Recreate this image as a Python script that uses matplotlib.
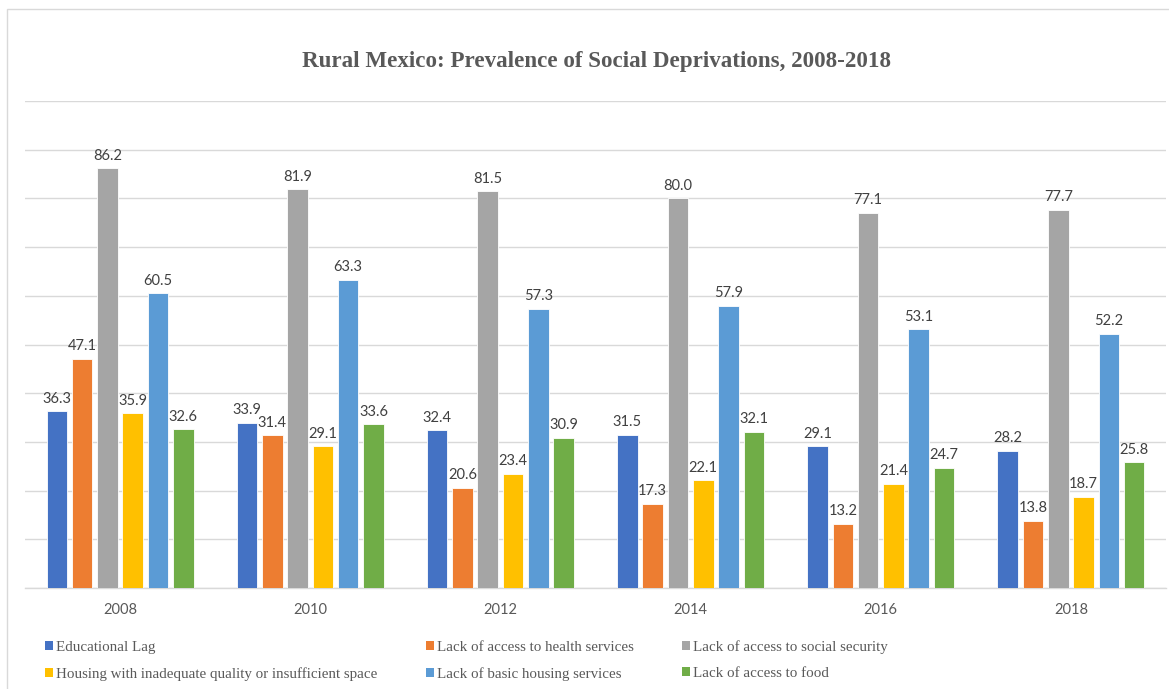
import matplotlib
matplotlib.use("Agg")
import matplotlib.pyplot as plt
import numpy as np
from matplotlib.patches import Rectangle, Patch

years = ["2008", "2010", "2012", "2014", "2016", "2018"]
series_names = [
    "Educational Lag",
    "Lack of access to health services",
    "Lack of access to social security",
    "Housing with inadequate quality or insufficient space",
    "Lack of basic housing services",
    "Lack of access to food",
]
educational_lag = [36.3, 33.9, 32.4, 31.5, 29.1, 28.2]
health_services = [47.1, 31.4, 20.6, 17.3, 13.2, 13.8]
social_security = [86.2, 81.9, 81.5, 80.0, 77.1, 77.7]
housing_quality = [35.9, 29.1, 23.4, 22.1, 21.4, 18.7]
basic_housing = [60.5, 63.3, 57.3, 57.9, 53.1, 52.2]
food_access = [32.6, 33.6, 30.9, 32.1, 24.7, 25.8]
series = [educational_lag, health_services, social_security,
          housing_quality, basic_housing, food_access]
colors = ["#4472C4", "#ED7D31", "#A5A5A5", "#FFC000", "#5B9BD5", "#70AD47"]

W, H = 1169, 689
fig = plt.figure(figsize=(W / 100, H / 100), dpi=100)
fig.patch.set_facecolor("white")

# chart frame
fig.patches.append(Rectangle((7 / W, -0.05), 1.05, 1 - 9 / H + 0.05,
                             transform=fig.transFigure, fill=False,
                             edgecolor="#D9D9D9", linewidth=1))

ax = fig.add_axes([25 / W, 101 / H, (1166 - 25) / W, (588 - 101) / H])
x = np.arange(len(years))
slot = 25.3 / 190
bw = 20.5 / 190
for i, (vals, c) in enumerate(zip(series, colors)):
    off = (i - 2.5) * slot
    bars = ax.bar(x + off, vals, width=bw, color=c, edgecolor="white",
                  linewidth=0.6, zorder=3)
    ax.bar_label(bars, fmt="%.1f", padding=4, fontsize=10.5,
                 color="#404040", family="Lato")

ax.set_xlim(-0.5, len(years) - 0.5)
ax.set_ylim(0, 100)
ax.set_yticks(np.arange(0, 101, 10))
ax.set_yticklabels([])
ax.tick_params(axis="y", length=0)
ax.set_xticks(x)
ax.set_xticklabels(years, fontsize=10.5, color="#595959", family="Lato")
ax.tick_params(axis="x", length=0, pad=11)
ax.grid(axis="y", color="#D9D9D9", linewidth=1, zorder=0)
for s in ["top", "right", "left"]:
    ax.spines[s].set_visible(False)
ax.spines["bottom"].set_color("#D9D9D9")
ax.spines["bottom"].set_linewidth(1)
ax.set_axisbelow(True)

fig.text(596 / W, 1 - 61 / H,
         "Rural Mexico: Prevalence of Social Deprivations, 2008-2018",
         ha="center", va="center", fontsize=16.6, fontweight="bold",
         color="#595959", family="Liberation Serif")

handles = [Patch(facecolor=c, edgecolor="none") for c in colors]
order = [0, 3, 1, 4, 2, 5]
leg = fig.legend([handles[i] for i in order], [series_names[i] for i in order],
                 ncol=3, loc="upper left",
                 bbox_to_anchor=(45 / W, 1 - 640 / H),
                 frameon=False, handlelength=0.55, handleheight=0.55,
                 handletextpad=0.2, columnspacing=3.2, labelspacing=0.9,
                 prop={"family": "Liberation Serif", "size": 10.8},
                 borderaxespad=0, borderpad=0)
for t in leg.get_texts():
    t.set_color("#595959")

fig.savefig("out.png", dpi=100)
